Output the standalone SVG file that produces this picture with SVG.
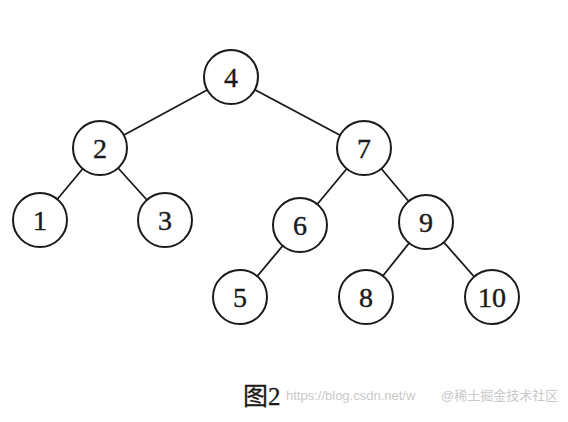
<svg xmlns="http://www.w3.org/2000/svg" width="568" height="422" viewBox="0 0 568 422">
<style>
.n circle{fill:#fff;stroke:#1a1a1a;stroke-width:2}
.n text{font-family:"Liberation Serif","Times New Roman",serif;font-size:28px;fill:#1a1a1a;stroke:#1a1a1a;stroke-width:0.4;text-anchor:middle;dominant-baseline:central}
#edges line{stroke:#1a1a1a;stroke-width:1.8}
.cap{font-family:"Liberation Serif","Noto Sans CJK SC",serif;font-size:25px;fill:#1a1a1a;stroke:#1a1a1a;stroke-width:0.3}
.wm{font-family:"Liberation Sans","Noto Sans CJK SC",sans-serif;font-size:13px;fill:#c8c8c8}
</style>
<rect width="568" height="422" fill="#fff"/>
<g id="edges">
<line x1="231" y1="77" x2="100" y2="148"/>
<line x1="231" y1="77" x2="364" y2="148"/>
<line x1="100" y1="148" x2="40" y2="220"/>
<line x1="100" y1="148" x2="165" y2="220"/>
<line x1="364" y1="148" x2="300" y2="225"/>
<line x1="364" y1="148" x2="426" y2="222"/>
<line x1="300" y1="225" x2="240" y2="297"/>
<line x1="426" y1="222" x2="366" y2="297"/>
<line x1="426" y1="222" x2="492" y2="297"/>
</g>
<g id="n4" class="n"><circle cx="231" cy="77" r="27"/><text x="231" y="77">4</text></g>
<g id="n2" class="n"><circle cx="100" cy="148" r="27"/><text x="100" y="148">2</text></g>
<g id="n7" class="n"><circle cx="364" cy="148" r="27"/><text x="364" y="148">7</text></g>
<g id="n1" class="n"><circle cx="40" cy="220" r="27"/><text x="40" y="220">1</text></g>
<g id="n3" class="n"><circle cx="165" cy="220" r="27"/><text x="165" y="220">3</text></g>
<g id="n6" class="n"><circle cx="300" cy="225" r="27"/><text x="300" y="225">6</text></g>
<g id="n9" class="n"><circle cx="426" cy="222" r="27"/><text x="426" y="222">9</text></g>
<g id="n5" class="n"><circle cx="240" cy="297" r="27"/><text x="240" y="297">5</text></g>
<g id="n8" class="n"><circle cx="366" cy="297" r="27"/><text x="366" y="297">8</text></g>
<g id="n10" class="n"><circle cx="492" cy="297" r="27"/><text x="492" y="297">10</text></g>
<text class="cap" x="243" y="405">图2</text>
<text class="wm" x="286" y="400">https://blog.csdn.net/w</text>
<text class="wm" x="441" y="400" font-size="12">@稀土掘金技术社区</text>
</svg>
